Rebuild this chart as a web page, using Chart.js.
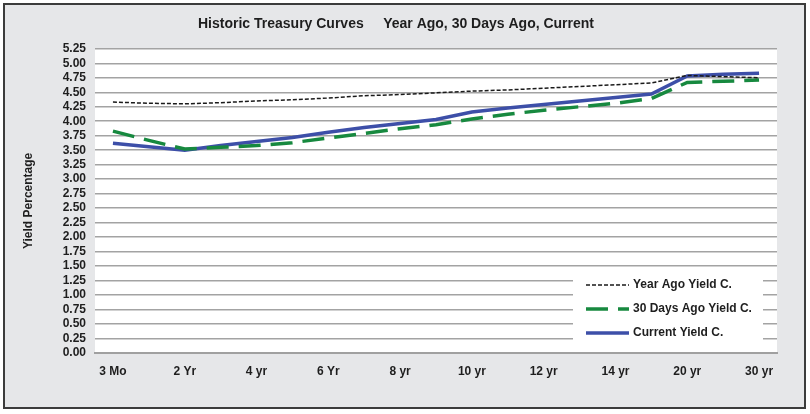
<!DOCTYPE html>
<html lang="en">
<head>
    <meta charset="UTF-8">
    <title>Historic Treasury Curves</title>
    <script src="https://cdn.jsdelivr.net/npm/chart.js@4.4.0/dist/chart.umd.min.js"></script>
    <style>
        body { margin: 0; background: #ffffff; }
        #frame { position: absolute; left: 3px; top: 3px; width: 799px; height: 402px;
                 border: 2px solid #3c3c3c; background: #e6e7e9; }
        #myChart { position: absolute; left: 0; top: 0; }
    </style>
</head>
<body>
    <div id="frame"></div>
    <canvas id="myChart" width="810" height="414"></canvas>
    <script>
// maturities on the curve, only every second one gets a label
const maturities = ['3 Mo', '1 Yr', '2 Yr', '3 yr', '4 yr', '5 yr', '6 Yr', '7 yr', '8 yr', '9 yr',
                    '10 yr', '11 yr', '12 yr', '13 yr', '14 yr', '15 yr', '20 yr', '25 yr', '30 yr'];
const shownLabels = ['3 Mo', '2 Yr', '4 yr', '6 Yr', '8 yr', '10 yr', '12 yr', '14 yr', '20 yr', '30 yr'];

const yearAgo = [4.33, 4.31, 4.30, 4.32, 4.35, 4.37, 4.40, 4.44, 4.46, 4.49,
                 4.52, 4.54, 4.57, 4.60, 4.63, 4.66, 4.79, 4.77, 4.75];
const days30Ago = [3.83, 3.67, 3.52, 3.55, 3.58, 3.63, 3.71, 3.79, 3.87, 3.94,
                   4.04, 4.12, 4.19, 4.25, 4.31, 4.39, 4.67, 4.69, 4.71];
const current = [3.62, 3.56, 3.50, 3.58, 3.65, 3.72, 3.81, 3.89, 3.96, 4.03,
                 4.16, 4.23, 4.29, 4.35, 4.41, 4.47, 4.78, 4.81, 4.83];

const FONT = "'Liberation Sans', Arial, sans-serif";

// white plot background
const plotBg = {
    id: 'plotBg',
    beforeDraw(chart) {
        const a = chart.chartArea;
        const ctx = chart.ctx;
        ctx.save();
        ctx.fillStyle = '#ffffff';
        ctx.fillRect(a.left, a.top, a.right - a.left, a.bottom - a.top);
        ctx.restore();
    }
};

// legend box sitting inside the plot, bottom right
const boxLegend = {
    id: 'boxLegend',
    afterDatasetsDraw(chart) {
        const ctx = chart.ctx;
        ctx.save();
        ctx.fillStyle = '#ffffff';
        ctx.fillRect(573, 270, 190, 74);
        ctx.font = 'bold 12px ' + FONT;
        ctx.textBaseline = 'middle';
        chart.data.datasets.forEach((ds, i) => {
            const y = 285 + i * 24;
            ctx.strokeStyle = ds.borderColor;
            ctx.lineWidth = ds.borderWidth;
            ctx.setLineDash(ds.borderDash || []);
            ctx.beginPath();
            ctx.moveTo(586, y);
            ctx.lineTo(629, y);
            ctx.stroke();
            ctx.setLineDash([]);
            ctx.fillStyle = '#1e1e1e';
            ctx.fillText(ds.label, 633, y);
        });
        ctx.restore();
    }
};

const ctx = document.getElementById('myChart').getContext('2d');
const myChart = new Chart(ctx, {
    type: 'line',
    data: {
        labels: maturities,
        datasets: [
            {
                label: 'Year Ago Yield C.',
                data: yearAgo,
                borderColor: '#1a1a1a',
                borderWidth: 1.5,
                borderDash: [4, 2],
                pointRadius: 0,
                tension: 0
            },
            {
                label: '30 Days Ago Yield C.',
                data: days30Ago,
                borderColor: '#17893f',
                borderWidth: 3.5,
                borderDash: [22, 10],
                pointRadius: 0,
                tension: 0
            },
            {
                label: 'Current Yield C.',
                data: current,
                borderColor: '#3d4fa8',
                borderWidth: 3.5,
                pointRadius: 0,
                tension: 0
            }
        ]
    },
    options: {
        responsive: false,
        animation: false,
        layout: { padding: { left: 15, right: 33, top: 0, bottom: 0 } },
        plugins: {
            legend: { display: false },
            tooltip: { enabled: false },
            title: {
                display: true,
                text: 'Historic Treasury Curves     Year Ago, 30 Days Ago, Current',
                color: '#1e1e1e',
                font: { family: FONT, size: 14, weight: 'bold', lineHeight: 1.2 },
                padding: { top: 16, bottom: 16 }
            }
        },
        scales: {
            x: {
                offset: true,
                grid: { display: false },
                border: { display: true, color: '#a0a0a0', width: 2 },
                ticks: {
                    autoSkip: false,
                    maxRotation: 0,
                    padding: 3,
                    color: '#1e1e1e',
                    font: { family: FONT, size: 12, weight: 'bold' },
                    callback(v) {
                        const lab = maturities[v];
                        return shownLabels.includes(lab) ? lab : '';
                    }
                },
                afterFit(s) { s.height = 61; }
            },
            y: {
                min: 0,
                max: 5.25,
                grid: { color: '#a3a3a3', lineWidth: 1.5, drawTicks: false },
                border: { display: false },
                ticks: {
                    autoSkip: false,
                    stepSize: 0.25,
                    padding: 9,
                    color: '#1e1e1e',
                    font: { family: FONT, size: 12, weight: 'bold' },
                    callback(v) { return v.toFixed(2); }
                },
                title: {
                    display: true,
                    text: 'Yield Percentage',
                    color: '#1e1e1e',
                    font: { family: FONT, size: 12, weight: 'bold' },
                    padding: { top: 6, bottom: 0 }
                },
                afterFit(s) { s.width = 80; }
            }
        }
    },
    plugins: [plotBg, boxLegend]
});
    </script>
</body>
</html>
